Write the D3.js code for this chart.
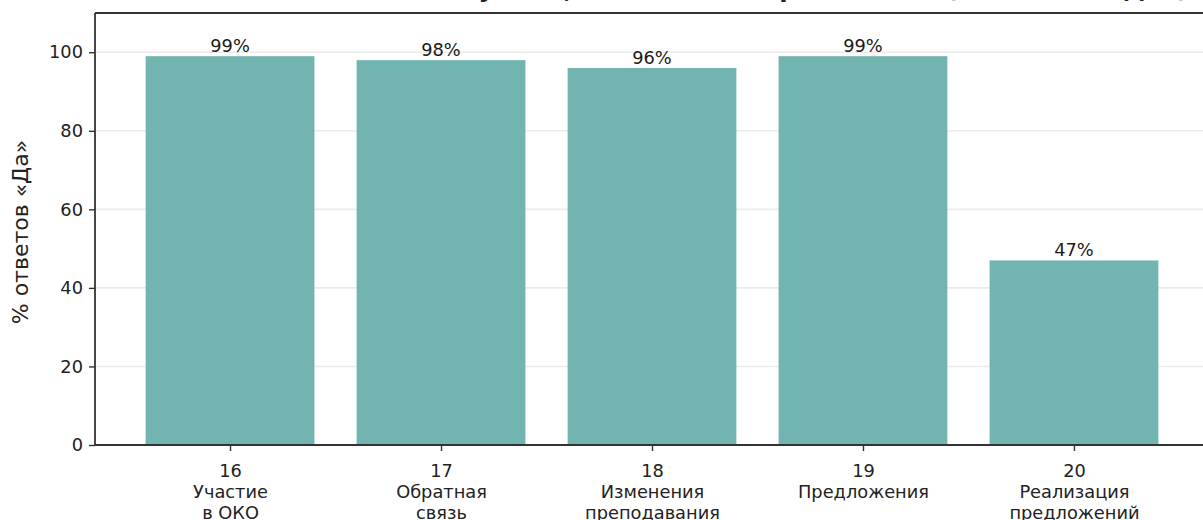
<!DOCTYPE html>
<html><head><meta charset="utf-8">
<script src="https://cdn.jsdelivr.net/npm/d3@7"></script>
<style>
html,body{margin:0;padding:0;background:#fff;overflow:hidden}
text{font-family:"DejaVu Sans",sans-serif}
</style></head>
<body>
<svg id="c" width="1203" height="520" style="display:block"></svg>
<script>
const questionNumbers = ["16","17","18","19","20"];
const questionLabels = [["Участие","в ОКО"],["Обратная","связь"],["Изменения","преподавания"],["Предложения"],["Реализация","предложений"]];
const yesPercent = [99, 98, 96, 99, 47];
const yTicks = [0, 20, 40, 60, 80, 100];
const titleText = "Ответы по блоку ОКО, ответы на вопросы 16–20 (% ответов «Да»)";
const yLabel = "% ответов «Да»";

const svg = d3.select("#c");
const L = 95, T = 13, B = 445;
const idx = d3.range(questionNumbers.length);
const x = d3.scaleLinear().domain([-0.64, 4.64]).range([L, 1209]);
const y = d3.scaleLinear().domain([0, 110]).range([B, T]);
const bw = x(0.4) - x(-0.4);
const fs = 17.8;

svg.append("g").selectAll("line").data(yTicks.filter(d=>d>0)).join("line")
  .attr("x1", L).attr("x2", 1209).attr("y1", d=>y(d)).attr("y2", d=>y(d))
  .attr("stroke", "#ebebeb").attr("stroke-width", 1.6);

svg.append("g").selectAll("rect").data(idx).join("rect")
  .attr("x", i => x(i) - bw/2).attr("width", bw)
  .attr("y", i => y(yesPercent[i])).attr("height", i => B - y(yesPercent[i]))
  .attr("fill", "#72b5b0");

svg.append("g").selectAll("text").data(idx).join("text")
  .attr("x", i => x(i)).attr("y", i => y(yesPercent[i]) - 4)
  .attr("text-anchor", "middle").attr("font-size", fs).attr("fill", "#1a1a1a")
  .text(i => yesPercent[i] + "%");

const yAxis = d3.axisLeft(y).tickValues(yTicks).tickSize(6).tickPadding(6).tickFormat(d3.format("d"));
const gy = svg.append("g").attr("transform", `translate(${L},0)`).call(yAxis);
gy.select(".domain").remove();
gy.selectAll(".tick line").attr("stroke", "#333").attr("stroke-width", 1.4);
gy.selectAll(".tick text").attr("font-size", fs).attr("fill", "#222").attr("font-family", "DejaVu Sans");

const xAxis = d3.axisBottom(x).tickValues(idx).tickSize(6).tickFormat(() => "");
const gx = svg.append("g").attr("transform", `translate(0,${B})`).call(xAxis);
gx.select(".domain").remove();
gx.selectAll(".tick line").attr("stroke", "#333").attr("stroke-width", 1.4);
gx.selectAll(".tick").each(function(i){
  const t = d3.select(this).append("text").attr("fill", "#222").attr("font-size", fs)
    .attr("text-anchor", "middle").attr("font-family", "DejaVu Sans");
  const lines = [questionNumbers[i]].concat(questionLabels[i]);
  lines.forEach((s, k) => t.append("tspan").attr("x", 0).attr("y", 32 + k*21).text(s));
});

svg.append("line").attr("x1", L).attr("x2", 1209).attr("y1", B).attr("y2", B).attr("stroke", "#333").attr("stroke-width", 1.8);
svg.append("line").attr("x1", L).attr("x2", 1209).attr("y1", T).attr("y2", T).attr("stroke", "#333").attr("stroke-width", 1.8);
svg.append("line").attr("x1", L).attr("x2", L).attr("y1", T).attr("y2", B).attr("stroke", "#333").attr("stroke-width", 1.8);

svg.append("text").attr("transform", `translate(28,${(T+B)/2 + 3}) rotate(-90)`)
  .attr("text-anchor", "middle").attr("font-size", 22).attr("fill", "#222").text(yLabel);

svg.append("text").attr("x", 1188).attr("y", -3).attr("text-anchor", "end")
  .attr("font-size", 24.3).attr("font-weight", "bold").attr("fill", "#222").text(titleText);
</script>
</body></html>
